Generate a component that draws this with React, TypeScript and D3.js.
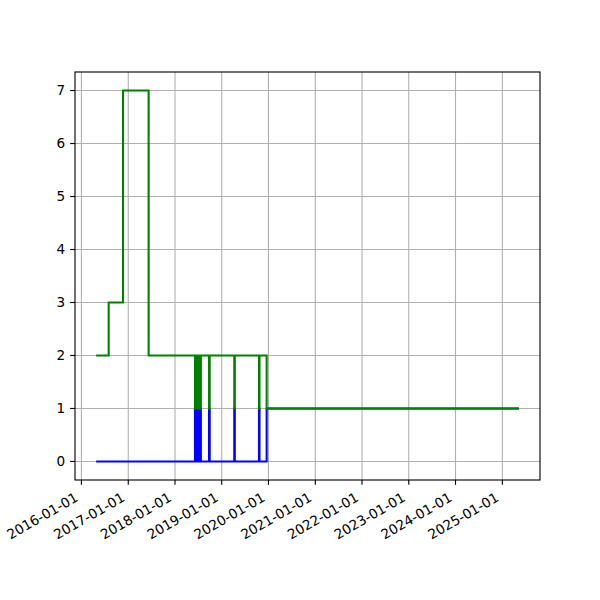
import * as d3 from "d3";

// step points (post)
const dates = [
  "2016-04-25", "2016-08-01", "2016-11-21", "2017-06-09",
  "2018-06-06", "2018-06-10", "2018-06-14", "2018-06-18", "2018-06-22",
  "2018-06-27", "2018-07-01", "2018-07-06", "2018-07-10", "2018-07-15",
  "2018-07-18", "2018-07-22",
  "2018-09-24", "2018-09-29",
  "2019-04-09", "2019-04-13",
  "2019-10-19", "2019-10-23",
  "2019-12-18", "2025-05-10",
];
const blueValues = [
  0, 0, 0, 0,
  1, 0, 1, 0, 1,
  0, 1, 0, 1, 0,
  1, 0,
  1, 0,
  1, 0,
  1, 0,
  1, 1,
];
const greenValues = [
  2, 3, 7, 2,
  1, 2, 1, 2, 1,
  2, 1, 2, 1, 2,
  1, 2,
  1, 2,
  1, 2,
  1, 2,
  1, 1,
];
const yTicks = [0, 1, 2, 3, 4, 5, 6, 7];
const xTickYears = [2016, 2017, 2018, 2019, 2020, 2021, 2022, 2023, 2024, 2025];

const W = 600;
const H = 600;
const left = 75;
const right = 540;
const top = 72;
const bottom = 480;
const font = "DejaVu Sans, sans-serif";
const fs = 13.6;
const pt = 100 / 72; // points -> px at 100 dpi
const tickLen = 3.5 * pt;
const tickPad = 3.5 * pt;

const parse = d3.utcParse("%Y-%m-%d");
const fmt = d3.utcFormat("%Y-%m-%d");

export default function App() {
  const t = dates.map((d) => parse(d) as Date);
  const t0 = +t[0];
  const t1 = +t[t.length - 1];
  const pad = (t1 - t0) * 0.05;
  const x = d3.scaleUtc().domain([new Date(t0 - pad), new Date(t1 + pad)]).range([left, right]);
  const y = d3.scaleLinear().domain([-0.35, 7.35]).range([bottom, top]);

  const line = d3
    .line<number>()
    .x((_, i) => x(t[i]))
    .y((v) => y(v))
    .curve(d3.curveStepAfter);

  const xTicks = xTickYears.map((yr) => new Date(Date.UTC(yr, 0, 1)));
  const labelTop = bottom + tickLen + tickPad;

  return (
    <svg width={W} height={H} style={{ position: "absolute", left: 0, top: 0, background: "#fff" }}>
      {/* grid */}
      <g stroke="#b0b0b0" strokeWidth={0.8 * pt}>
        {xTicks.map((d, i) => (
          <line key={"gx" + i} x1={x(d)} x2={x(d)} y1={top} y2={bottom} />
        ))}
        {yTicks.map((v) => (
          <line key={"gy" + v} x1={left} x2={right} y1={y(v)} y2={y(v)} />
        ))}
      </g>
      <path d={line(blueValues) || ""} fill="none" stroke="#0000ff" strokeWidth={1.5 * pt} />
      <path d={line(greenValues) || ""} fill="none" stroke="#008000" strokeWidth={1.5 * pt} />
      {/* spines */}
      <rect x={left} y={top} width={right - left} height={bottom - top} fill="none" stroke="#000" strokeWidth={0.8 * pt} />
      {/* y ticks */}
      {yTicks.map((v) => (
        <g key={"yt" + v}>
          <line x1={left - tickLen} x2={left} y1={y(v)} y2={y(v)} stroke="#000" strokeWidth={0.8 * pt} />
          <text x={left - tickLen - tickPad} y={y(v)} dy="0.36em" textAnchor="end" fontFamily={font} fontSize={fs} fill="#000">
            {v}
          </text>
        </g>
      ))}
      {/* x ticks */}
      {xTicks.map((d, i) => (
        <g key={"xt" + i}>
          <line x1={x(d)} x2={x(d)} y1={bottom} y2={bottom + tickLen} stroke="#000" strokeWidth={0.8 * pt} />
          <text
            transform={`translate(${x(d) - 2.5},${labelTop + 10.5}) rotate(-30)`}
            textAnchor="end"
            fontFamily={font}
            fontSize={fs}
            fill="#000"
          >
            {fmt(d)}
          </text>
        </g>
      ))}
    </svg>
  );
}
